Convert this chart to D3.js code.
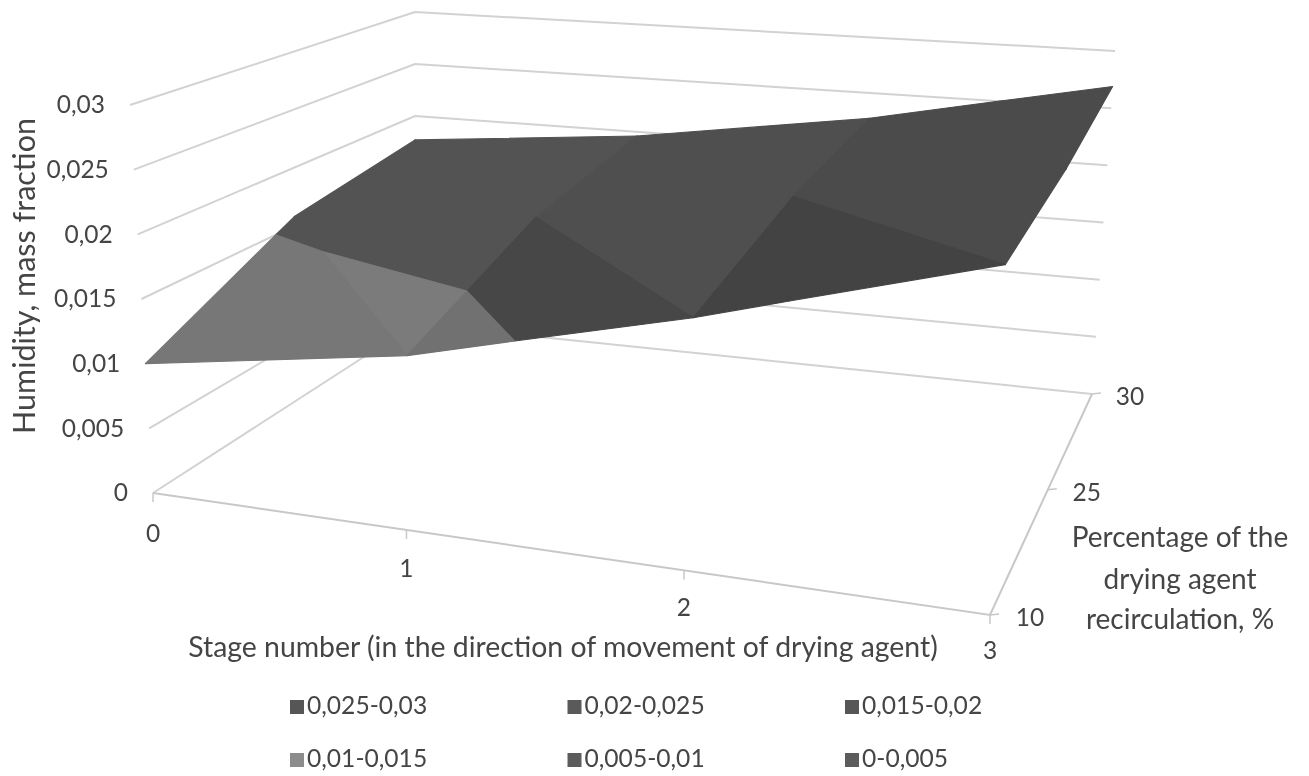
<!DOCTYPE html>
<html><head><meta charset="utf-8">
<script src="https://cdn.jsdelivr.net/npm/d3@7"></script>
<style>html,body{margin:0;background:#fff}svg{display:block;filter:blur(0.45px)}text{font-family:Lato,"Open Sans",sans-serif;fill:#454545}</style>
</head><body><svg id="c" width="1309" height="776"></svg>
<script>
// ---- data ----
const stages = [0, 1, 2, 3];
const recirculation = [10, 25, 30];
const humidity10 = [0.01, 0.013, 0.0181, 0.024];
const humidity25 = [0.0158, 0.0176, 0.0211, 0.025];
const humidity30 = [0.0177, 0.0196, 0.0227, 0.0269];
const humidityTicks = [0, 0.005, 0.01, 0.015, 0.02, 0.025, 0.03];
const humidityLabels = ["0", "0,005", "0,01", "0,015", "0,02", "0,025", "0,03"];
const bandLabels = ["0,025-0,03", "0,02-0,025", "0,015-0,02", "0,01-0,015", "0,005-0,01", "0-0,005"];
const bandLow = [0.025, 0.02, 0.015, 0.01, 0.005, 0];
const bandHigh = [0.03, 0.025, 0.02, 0.015, 0.01, 0.005];
const bandIsLight = [false, false, false, true, false, false];
const swatchColors = ["#565656", "#5a5a5a", "#565656", "#8c8c8c", "#5c5c5c", "#5c5c5c"];
// ---- frame of the 3D box on screen: [u,v] corners ----
const floorCorners = [[153,493],[990,615],[1092,394],[415,324]];
const topCorners = [[130,105],[1009,177],[1115,51],[415,12]];

function homography(q){
  const src=[[0,0],[1,0],[1,1],[0,1]],A=[];
  src.forEach(([u,v],i)=>{const [x,y]=q[i];
    A.push([u,v,1,0,0,0,-u*x,-v*x,x]);A.push([0,0,0,u,v,1,-u*y,-v*y,y]);});
  for(let i=0;i<8;i++){let p=i;for(let r=i+1;r<8;r++)if(Math.abs(A[r][i])>Math.abs(A[p][i]))p=r;
    [A[i],A[p]]=[A[p],A[i]];
    for(let r=0;r<8;r++)if(r!==i){const f=A[r][i]/A[i][i];for(let c=i;c<9;c++)A[r][c]-=f*A[i][c];}}
  const h=A.map((r,i)=>r[8]/r[i]);
  return (u,v)=>{const w=h[6]*u+h[7]*v+1;return [(h[0]*u+h[1]*v+h[2])/w,(h[3]*u+h[4]*v+h[5])/w];};
}
const Hf=homography(floorCorners),Ht=homography(topCorners);
const uS=d3.scaleLinear().domain([0,3]).range([0,1]);
const vS=d3.scalePoint().domain(recirculation).range([0,1]);
const zS=d3.scaleLinear().domain([0,0.03]).range([0,1]);
const warpFloor=d3.scaleLinear().domain([0,1/3,2/3,1]).range([0,0.339,0.672,1]);
const warpTop=d3.scaleLinear().domain([0,1/3,2/3,1]).range([0,0.359,0.69,1]);
function proj(u,v,z){const a=Hf(warpFloor(u),v),b=Ht(warpTop(u),v),t=zS(z);return [a[0]+(b[0]-a[0])*t,a[1]+(b[1]-a[1])*t];}

const svg=d3.select("#c");
const gridCol="#d2d2d2";
const line=d3.line();
// walls
const gWall=svg.append("g").attr("fill","none").attr("stroke",gridCol).attr("stroke-width",2);
humidityTicks.forEach(z=>{
  gWall.append("path").attr("d",line([proj(0,0,z),proj(0,1,z),proj(1,1,z)]));
});
// floor axes
const gAxis=svg.append("g").attr("fill","none").attr("stroke","#c8c8c8").attr("stroke-width",2);
gAxis.append("path").attr("d",line([proj(0,0,0),proj(1,0,0),proj(1,1,0)]));
stages.forEach(s=>{const p=proj(uS(s),0,0);
  gAxis.append("path").attr("stroke-width",1.5).attr("d",line([p,[p[0],p[1]+9]]));});
recirculation.forEach(r=>{const p=proj(1,vS(r),0);
  gAxis.append("path").attr("stroke-width",1.5).attr("d",line([p,[p[0]+9,p[1]-1]]));});

// surface
const rows=[humidity10,humidity25,humidity30];
function clip(poly,lim,keepAbove){
  const out=[];
  for(let i=0;i<poly.length;i++){
    const a=poly[i],b=poly[(i+1)%poly.length];
    const ai=keepAbove?a[2]>=lim:a[2]<=lim, bi=keepAbove?b[2]>=lim:b[2]<=lim;
    if(ai)out.push(a);
    if(ai!==bi){const t=(lim-a[2])/(b[2]-a[2]);out.push([a[0]+(b[0]-a[0])*t,a[1]+(b[1]-a[1])*t,lim]);}
  }
  return out;
}
const gS=svg.append("g");
function shade(k,dzdx,uMin){
  if(bandIsLight[k])return 128-3000*dzdx;
  return 83-12*uMin-(dzdx>0.0045?8:0);
}
function drawTri(tri,dzdx){
  const uMin=d3.min(tri,t=>t[0]);
  // dark bands first, so the light band keeps its edge
  d3.range(bandLabels.length).sort((a,b)=>bandIsLight[a]-bandIsLight[b]).forEach(k=>{
    let p=clip(tri,bandLow[k],true); if(p.length>2)p=clip(p,bandHigh[k],false);
    if(p.length<3)return;
    const L=Math.round(shade(k,dzdx,uMin)), col=d3.rgb(L,L,L).formatHex();
    gS.append("path").attr("d",line(p.map(q=>proj(q[0],q[1],q[2])))+"Z").attr("fill",col).attr("stroke",col).attr("stroke-width",1.1).attr("stroke-linejoin","round");
  });
}
for(let j=1;j>=0;j--)for(let i=0;i<stages.length-1;i++){
  const P=(a,b)=>[uS(stages[a]),vS(recirculation[b]),rows[b][a]];
  const A=P(i,j),B=P(i+1,j),C=P(i+1,j+1),D=P(i,j+1);
  drawTri([B,C,D],C[2]-D[2]);
  drawTri([A,B,D],B[2]-A[2]);
}

// labels
const T=(x,y,s,anchor,size)=>svg.append("text").attr("x",x).attr("y",y).attr("text-anchor",anchor||"middle").attr("dominant-baseline","middle").attr("font-size",size||24.5).text(s);
humidityTicks.forEach((z,i)=>{const p=proj(0,0,z);T(p[0]-25,p[1]+2,humidityLabels[i],"end");});
const stageOff=d3.scaleLinear().domain([0,3]).range([43,38]);
stages.forEach(s=>{const p=proj(uS(s),0,0);T(p[0],p[1]+stageOff(s),String(s));});
const seriesOff=d3.scalePoint().domain(recirculation).range([40,38]);
recirculation.forEach(r=>{const p=proj(1,vS(r),0);T(p[0]+seriesOff(r),p[1]+5,String(r));});
T(0,0,"Humidity, mass fraction","middle",30.5).attr("transform","translate(27,276) rotate(-90)");
T(563,650,"Stage number (in the direction of movement of drying agent)","middle",28.4);
T(1180,540,"Percentage of the","middle",28);T(1180,582,"drying agent","middle",28);T(1180,622,"recirculation, %","middle",28);
// legend
const legX=d3.scalePoint().domain([0,1,2]).range([290,845]);
bandLabels.forEach((b,i)=>{
  const x=legX(i%3),y=i<3?707:760;
  svg.append("rect").attr("x",x).attr("y",y-7).attr("width",14).attr("height",14).attr("fill",swatchColors[i]);
  T(x+17,y+1,b,"start",24.6);
});
</script></body></html>
